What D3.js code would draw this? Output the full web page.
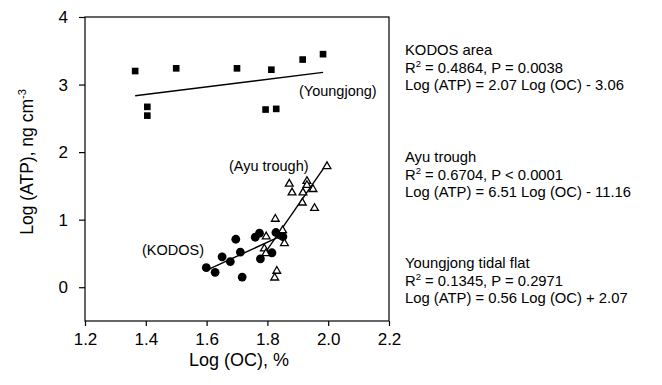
<!DOCTYPE html>
<html>
<head>
<meta charset="utf-8">
<script src="https://cdn.jsdelivr.net/npm/d3@7"></script>
<style>
body { margin: 0; background: #fff; }
svg { font-family: Arial, "Liberation Sans", Helvetica, sans-serif; }
</style>
</head>
<body>
<div id="g1"></div>
<script>
// data
var kodosX = [1.599, 1.628, 1.651, 1.678, 1.696, 1.711, 1.717, 1.760, 1.774, 1.777, 1.815, 1.828, 1.843, 1.851];
var kodosY = [0.29, 0.22, 0.45, 0.38, 0.71, 0.52, 0.15, 0.74, 0.80, 0.42, 0.51, 0.81, 0.77, 0.75];

var ayuX = [1.996, 1.872, 1.881, 1.930, 1.930, 1.917, 1.950, 1.915, 1.955, 1.826, 1.850, 1.796, 1.790, 1.795, 1.856, 1.831, 1.824];
var ayuY = [1.79, 1.53, 1.40, 1.57, 1.51, 1.40, 1.45, 1.25, 1.17, 1.01, 0.84, 0.75, 0.57, 0.50, 0.65, 0.24, 0.14];

var youngX = [1.365, 1.50, 1.70, 1.813, 1.916, 1.983, 1.405, 1.405, 1.794, 1.829];
var youngY = [3.20, 3.24, 3.24, 3.22, 3.37, 3.45, 2.67, 2.54, 2.63, 2.64];

// regression: slope, intercept
var kodosFit = [2.07, -3.06];
var ayuFit = [6.51, -11.16];
var youngFit = [0.56, 2.07];

var xTicks = [1.2, 1.4, 1.6, 1.8, 2.0, 2.2];
var yTicks = [0, 1, 2, 3, 4];

var notes = [
  {title: "KODOS area", r2: "0.4864", p: "P = 0.0038", eq: "Log (ATP) = 2.07 Log (OC) - 3.06"},
  {title: "Ayu trough", r2: "0.6704", p: "P < 0.0001", eq: "Log (ATP) = 6.51 Log (OC) - 11.16"},
  {title: "Youngjong tidal flat", r2: "0.1345", p: "P = 0.2971", eq: "Log (ATP) = 0.56 Log (OC) + 2.07"}
];

var w = 662, h = 385;
var svg = d3.select("#g1").append("svg").attr("width", w).attr("height", h);

var pL = 85, pR = 389, pT = 17, pB = 321;
var x = d3.scaleLinear().domain([1.2, 2.2]).range([pL, pR]);
var y = d3.scaleLinear().domain([-0.5, 4]).range([pB, pT]);

// frame
svg.append("rect").attr("x", pL).attr("y", pT).attr("width", pR - pL).attr("height", pB - pT)
   .style("fill", "none").style("stroke", "#000").style("stroke-width", 1.2);

var xAxis = d3.axisBottom(x).tickValues(xTicks).tickFormat(d3.format(".1f")).tickSizeOuter(0).tickSize(5).tickPadding(7);
var yAxis = d3.axisLeft(y).tickValues(yTicks).tickFormat(d3.format("d")).tickSizeOuter(0).tickSize(6).tickPadding(11);

var gx = svg.append("g").attr("transform", "translate(0," + pB + ")").call(xAxis);
var gy = svg.append("g").attr("transform", "translate(" + pL + ",0)").call(yAxis);
[gx, gy].forEach(function(g) {
  g.select(".domain").remove();
  g.selectAll("line").style("stroke", "#000").style("stroke-width", 1.2);
  g.selectAll("text").style("font-size", "17px").style("fill", "#000").style("font-family", "Arial, 'Liberation Sans', sans-serif");
});

// axis titles
svg.append("text").attr("x", (pL + pR) / 2 + 2).attr("y", 366).attr("text-anchor", "middle")
   .style("font-size", "18px").text("Log (OC), %");

var yt = svg.append("text").attr("transform", "translate(33," + ((pT + pB) / 2 - 7) + ") rotate(-90)")
   .attr("text-anchor", "middle").style("font-size", "17.5px");
yt.append("tspan").text("Log (ATP), ng cm");
yt.append("tspan").attr("dy", -7).style("font-size", "11px").text("-3");

// fit lines
function fitLine(xs, fit) {
  var ext = d3.extent(xs);
  return [[ext[0], fit[0] * ext[0] + fit[1]], [ext[1], fit[0] * ext[1] + fit[1]]];
}
var line = d3.line().x(function(d) { return x(d[0]); }).y(function(d) { return y(d[1]); });
[[youngX, youngFit], [kodosX, kodosFit], [ayuX, ayuFit]].forEach(function(s) {
  svg.append("path").attr("d", line(fitLine(s[0], s[1])))
     .style("fill", "none").style("stroke", "#000").style("stroke-width", 1.4);
});

// points
svg.selectAll(".sq").data(d3.zip(youngX, youngY)).enter().append("path")
   .attr("class", "sq")
   .attr("transform", function(d) { return "translate(" + x(d[0]) + "," + y(d[1]) + ")"; })
   .attr("d", d3.symbol().type(d3.symbolSquare).size(44))
   .style("fill", "#000");

svg.selectAll(".ci").data(d3.zip(kodosX, kodosY)).enter().append("circle")
   .attr("class", "ci")
   .attr("cx", function(d) { return x(d[0]); })
   .attr("cy", function(d) { return y(d[1]); })
   .attr("r", 4.4)
   .style("fill", "#000");

svg.selectAll(".tr").data(d3.zip(ayuX, ayuY)).enter().append("path")
   .attr("class", "tr")
   .attr("transform", function(d) { return "translate(" + x(d[0]) + "," + y(d[1]) + ")"; })
   .attr("d", d3.symbol().type(d3.symbolTriangle).size(26))
   .style("fill", "#fff").style("stroke", "#000").style("stroke-width", 1.3);

// in-plot labels
svg.append("text").attr("x", 299).attr("y", 96).style("font-size", "14.5px").text("(Youngjong)");
svg.append("text").attr("x", 229).attr("y", 171).style("font-size", "14.5px").text("(Ayu trough)");
svg.append("text").attr("x", 142).attr("y", 255).style("font-size", "14.5px").text("(KODOS)");

// regression notes
var noteY = [55, 162, 268];
notes.forEach(function(n, i) {
  var g = svg.append("g").attr("transform", "translate(405," + noteY[i] + ")").style("font-size", "14.8px");
  g.append("text").attr("y", 0).text(n.title);
  var r = g.append("text").attr("y", 17.5);
  r.append("tspan").text("R");
  r.append("tspan").attr("dy", -6).style("font-size", "9.5px").text("2");
  r.append("tspan").attr("dy", 6).text(" = " + n.r2 + ", " + n.p);
  g.append("text").attr("y", 35).text(n.eq);
});
</script>
</body>
</html>
